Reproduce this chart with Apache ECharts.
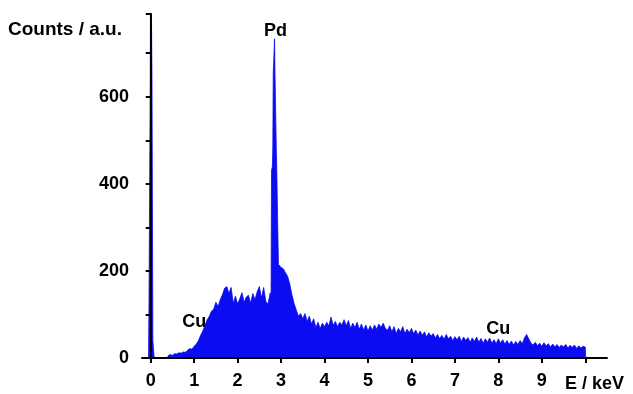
<!DOCTYPE html>
<html>
<head>
<meta charset="utf-8">
<script src="https://cdn.jsdelivr.net/npm/echarts@6/dist/echarts.min.js"></script>
<style>
html,body{margin:0;padding:0;background:#fff;}
#chart{width:633px;height:394px;}
</style>
</head>
<body>
<div id="chart"></div>
<script>
// Energy (keV) and counts
var energy = [
-0.05,-0.04,-0.02,-0.01,0.00,0.02,0.03,0.04,0.05,0.07,0.08,
0.39,0.40,0.45,0.50,0.55,0.60,0.65,0.70,0.75,0.80,0.85,0.90,0.95,
1.00,1.05,1.10,1.15,1.20,1.25,1.30,1.35,1.40,1.45,1.50,1.55,1.60,1.65,1.70,1.75,1.80,1.85,1.90,1.95,
2.00,2.05,2.10,2.15,2.20,2.25,2.30,2.35,2.40,2.45,2.50,2.55,2.60,2.65,2.70,2.75,
2.77,2.78,2.80,2.81,2.82,2.84,2.85,2.86,2.88,2.89,2.90,2.92,2.94,
3.00,3.05,3.10,3.15,3.20,3.25,3.30,3.35,3.40,3.45,3.50,3.55,3.60,3.65,3.70,3.75,3.80,3.85,3.90,3.95,
4.00,4.05,4.10,4.15,4.20,4.25,4.30,4.35,4.40,4.45,4.50,4.55,4.60,4.65,4.70,4.75,4.80,4.85,4.90,4.95,
5.00,5.05,5.10,5.15,5.20,5.25,5.30,5.35,5.40,5.45,5.50,5.55,5.60,5.65,5.70,5.75,5.80,5.85,5.90,5.95,
6.00,6.05,6.10,6.15,6.20,6.25,6.30,6.35,6.40,6.45,6.50,6.55,6.60,6.65,6.70,6.75,6.80,6.85,6.90,6.95,
7.00,7.05,7.10,7.15,7.20,7.25,7.30,7.35,7.40,7.45,7.50,7.55,7.60,7.65,7.70,7.75,7.80,7.85,7.90,7.95,
8.00,8.05,8.10,8.15,8.20,8.25,8.30,8.35,8.40,8.45,8.50,8.55,8.60,8.65,8.70,8.75,8.80,8.85,8.90,8.95,
9.00,9.05,9.10,9.15,9.20,9.25,9.30,9.35,9.40,9.45,9.50,9.55,9.60,9.65,9.70,9.75,9.80,9.85,9.90,9.95,
10.00,10.01
];
var counts = [
0,118,118,640,1000,1000,640,640,40,40,0,
0,5,8,6,10,9,12,11,14,13,18,22,20,
27,32,40,52,62,75,88,96,108,112,128,118,134,145,160,164,148,162,126,142,
124,136,150,128,140,144,126,148,134,152,164,138,162,130,124,150,
140,430,440,480,655,655,733,655,655,480,440,320,215,
208,205,196,188,170,145,125,110,96,102,90,102,84,96,78,90,70,82,68,80,
72,82,74,94,75,84,72,82,76,88,74,86,68,80,70,82,66,78,64,76,
62,74,64,76,66,78,70,80,68,64,74,60,72,56,68,60,72,56,66,58,
68,56,64,53,62,52,60,48,58,50,56,46,54,44,52,43,54,44,50,40,
49,42,50,38,48,40,47,36,46,38,48,36,45,34,44,36,46,34,42,33,
44,34,42,32,40,31,39,30,38,31,40,33,46,54,44,34,30,36,28,34,
27,35,28,33,25,32,26,31,24,30,25,31,23,29,24,30,22,28,23,27,
25,0
];
var xTickValues = [0,1,2,3,4,5,6,7,8,9,10];
var xLabelValues = [0,1,2,3,4,5,6,7,8,9];
var yLabelValues = [0,200,400,600];
var peakLabels = ['Pd','Cu','Cu'];
var peakEnergy = [2.87,1.0,8.0];
var peakCount = [750,83,67];

var chart = echarts.init(document.getElementById('chart'));
var font = '"Liberation Sans", Arial, sans-serif';
var blue = '#0c0cf2';
var seriesData = energy.map(function(e,i){return [e, counts[i]];});
var labelData = peakLabels.map(function(t,i){return {value:[peakEnergy[i], peakCount[i]], name:t};});

chart.setOption({
  animation:false,
  backgroundColor:'#fff',
  grid:{left:142,right:26,top:14,bottom:36},
  xAxis:{
    type:'value', min:-0.2, max:10.5, z:10,
    splitLine:{show:false},
    axisLine:{lineStyle:{color:'#000',width:2}},
    axisTick:{show:true, customValues:xTickValues, length:5, lineStyle:{color:'#000',width:2}},
    axisLabel:{customValues:xLabelValues, margin:14, color:'#000', fontFamily:font, fontWeight:'bold', fontSize:18}
  },
  yAxis:{
    type:'value', min:0, max:790, interval:100, z:10,
    splitLine:{show:false},
    axisLine:{show:true, lineStyle:{color:'#000',width:2}},
    axisTick:{show:true, length:5, lineStyle:{color:'#000',width:2}},
    axisLabel:{margin:13, color:'#000', fontFamily:font, fontWeight:'bold', fontSize:18,
      formatter:function(v){return yLabelValues.indexOf(v)>=0 ? String(v) : '';}}
  },
  graphic:[
    {type:'text', left:8, top:20, style:{text:'Counts / a.u.', fill:'#000', font:'bold 19px "Liberation Sans", Arial, sans-serif'}},
    {type:'text', left:565, top:375, style:{text:'E / keV', fill:'#000', font:'bold 18px "Liberation Sans", Arial, sans-serif'}}
  ],
  series:[
    {
      type:'line', data:seriesData, showSymbol:false, z:2,
      lineStyle:{color:blue,width:0.8},
      areaStyle:{color:blue,opacity:1},
      clip:true
    },
    {
      type:'scatter', data:labelData, symbolSize:0, z:5,
      itemStyle:{opacity:1},
      label:{show:true, position:'inside', formatter:'{b}', color:'#000', opacity:1, fontFamily:font, fontWeight:'bold', fontSize:18}
    }
  ]
});
</script>
</body>
</html>
